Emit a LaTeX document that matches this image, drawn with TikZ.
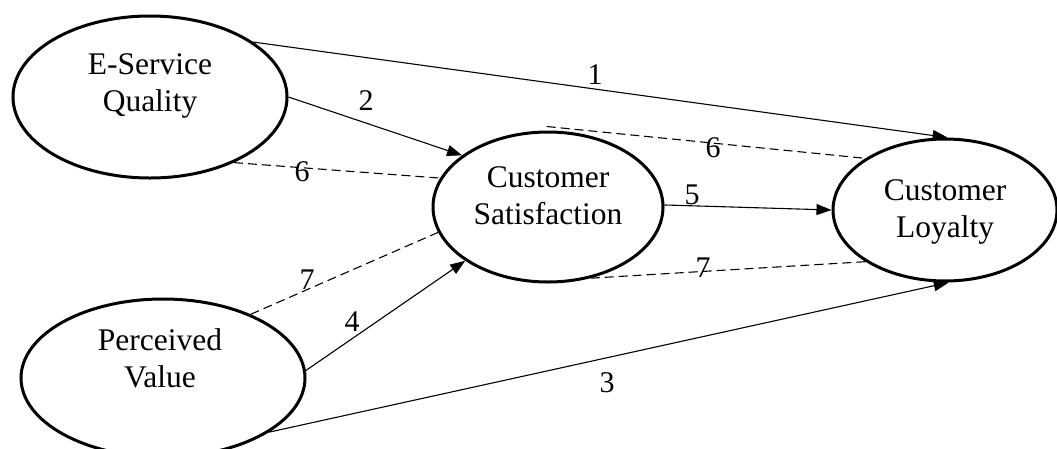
\documentclass[tikz,border=0pt]{standalone}
\usepackage{fontspec}
\setmainfont{Liberation Serif}
\usetikzlibrary{shapes.geometric,arrows.meta}
\begin{document}
\begin{tikzpicture}[x=1pt,y=-1pt,
  ell/.style={ellipse,draw,line width=3pt,inner sep=0pt},
  txt/.style={align=center,inner sep=0pt,font=\fontsize{31.5}{37}\selectfont},
  lbl/.style={inner sep=0pt,font=\fontsize{30}{36}\selectfont},
  conn/.style={line width=1.1pt,-{Triangle[length=15pt,width=11pt]}},
  dconn/.style={line width=1.1pt,dash pattern=on 9pt off 5pt}]
\useasboundingbox (0,0) rectangle (1057,448);
\node[ell,minimum width=274pt,minimum height=162pt] (ES) at (150,97) {};
\node[ell,minimum width=284pt,minimum height=158pt] (PV) at (163,378) {};
\node[ell,minimum width=230pt,minimum height=150pt] (CS) at (548,207) {};
\node[ell,minimum width=224pt,minimum height=142pt] (CL) at (945,210) {};
\node[txt] (tES) at (150,86) {E-Service\\Quality};
\node[txt] (tPV) at (160,358) {Perceived\\Value};
\node[txt] (tCS) at (548,196) {Customer\\Satisfaction};
\node[txt] (tCL) at (945,212) {Customer\\Loyalty};
% connectors
\draw[conn] (ES.28.8) -- (CL.88.4);
\draw[conn] (ES.0) -- (CS.149.5);
\draw[dconn] (ES.-38.7) -- (CS.165.2);
\draw[dconn] ([yshift=4pt]CS.91) -- (CL.147.3);
\draw[conn] (CS.1) -- (CL.180);
\draw[dconn] (PV.36.6) -- (CS.193.9);
\draw[conn] (PV.3.2) -- (CS.213.4);
\draw[dconn] (CS.-59) -- (CL.213);
\draw[conn] (PV.-27.2) -- (CL.-87.6);
% labels
\node[lbl] (l1) at (595,75) {1};
\node[lbl] (l2) at (366,101) {2};
\node[lbl] (l6a) at (302,172) {6};
\node[lbl] (l6b) at (713,148) {6};
\node[lbl] (l5) at (692,195) {5};
\node[lbl] (l7a) at (307,280) {7};
\node[lbl] (l4) at (352,322) {4};
\node[lbl] (l7b) at (703,268) {7};
\node[lbl] (l3) at (607,383) {3};
\end{tikzpicture}
\end{document}
